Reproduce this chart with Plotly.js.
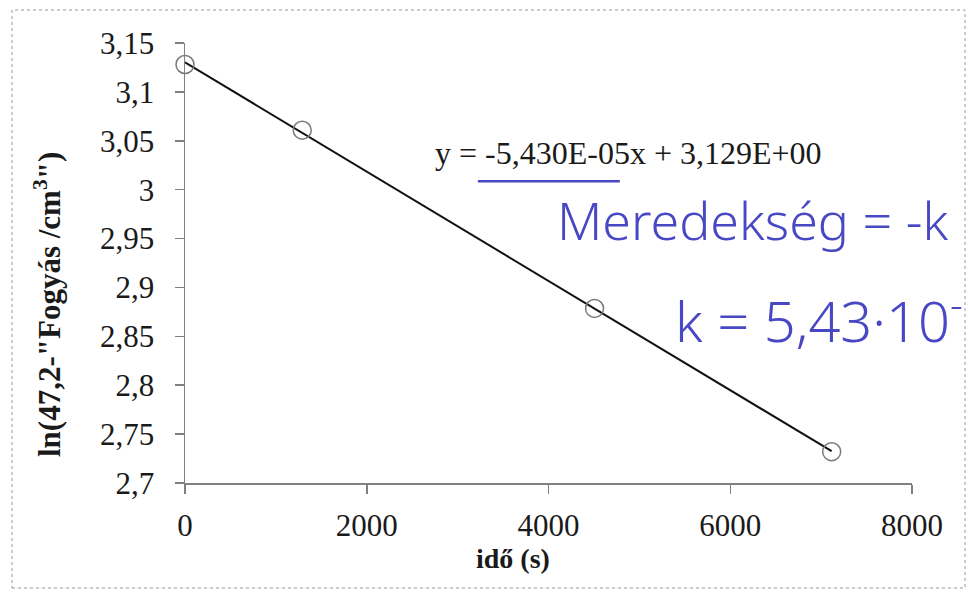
<!DOCTYPE html>
<html>
<head>
<meta charset="utf-8">
<script src="https://cdn.plot.ly/plotly-3.0.1.min.js"></script>
<style>
  html, body { margin: 0; padding: 0; background: #ffffff; }
  #chart { width: 968px; height: 592px; }
</style>
</head>
<body>
<div id="chart"></div>
<script>
// ---- data ----
const timeS = [0, 1290, 4507, 7116];
const lnValues = [3.128, 3.0608, 2.8785, 2.732];
const xTickVals = [0, 2000, 4000, 6000, 8000];
const yTickVals = [2.7, 2.75, 2.8, 2.85, 2.9, 2.95, 3, 3.05, 3.1, 3.15];
const equationText = 'y = -5,430E-05x + 3,129E+00';
const noteSlope = 'Meredekség = -k';
const noteK = 'k = 5,43·10<sup>-</sup>';
const xTitle = 'idő (s)';
const yTitle = 'ln(47,2-"Fogyás /cm<sup>3</sup>")';

// least-squares trend line through the data
const n = timeS.length;
const mx = timeS.reduce((a, b) => a + b, 0) / n;
const my = lnValues.reduce((a, b) => a + b, 0) / n;
let sxy = 0, sxx = 0;
for (let i = 0; i < n; i++) {
  sxy += (timeS[i] - mx) * (lnValues[i] - my);
  sxx += (timeS[i] - mx) * (timeS[i] - mx);
}
const slope = sxy / sxx;
const intercept = my - slope * mx;
const xMin = Math.min(...timeS), xMax = Math.max(...timeS);
const trendX = [xMin, xMax];
const trendY = trendX.map(x => intercept + slope * x);

const serif = 'Liberation Serif, serif';
const hand = 'Noto Sans';
const blue = 'rgb(72,72,196)';
const axisGray = '#808080';

// plot area in pixels: left 185, right 912, top 43, bottom 483
const PW = 727, PH = 440, PL = 185, PB = 483;
const px = v => (v - PL) / PW;
const py = v => (PB - v) / PH;

const traces = [
  {
    x: trendX, y: trendY, mode: 'lines', type: 'scatter',
    line: { color: '#111111', width: 2 }, hoverinfo: 'skip', showlegend: false
  },
  {
    x: timeS, y: lnValues, mode: 'markers', type: 'scatter',
    marker: { symbol: 'circle-open', size: 18, color: '#7a7a7a', line: { color: '#7a7a7a', width: 1.5 } },
    showlegend: false, cliponaxis: false
  }
];

const layout = {
  width: 968, height: 592,
  margin: { l: 185, r: 56, t: 43, b: 109 },
  paper_bgcolor: '#ffffff', plot_bgcolor: '#ffffff',
  separators: ', ',
  font: { family: serif, color: '#1a1a1a' },
  showlegend: false,
  xaxis: {
    range: [0, 8000], tickvals: xTickVals, showgrid: false, zeroline: false,
    showline: true, linecolor: axisGray, linewidth: 1.5,
    ticks: 'outside', ticklen: 9, tickcolor: axisGray, tickwidth: 1.5,
    tickfont: { family: serif, size: 31, color: '#1a1a1a' },
    ticklabelstandoff: 5
  },
  yaxis: {
    range: [2.7, 3.15], tickvals: yTickVals, showgrid: false, zeroline: false,
    showline: true, linecolor: axisGray, linewidth: 1.5,
    ticks: 'outside', ticklen: 9, tickcolor: axisGray, tickwidth: 1.5,
    tickfont: { family: serif, size: 31, color: '#1a1a1a' },
    ticklabelstandoff: 14
  },
  annotations: [
    { x: px(513), y: py(558), xref: 'paper', yref: 'paper', text: xTitle, showarrow: false,
      xanchor: 'center', yanchor: 'middle', font: { family: serif, size: 28, weight: 'bold', color: '#1a1a1a' } },
    { x: px(47), y: py(305), xref: 'paper', yref: 'paper', text: yTitle, showarrow: false, textangle: -90,
      xanchor: 'center', yanchor: 'middle', font: { family: serif, size: 31, weight: 'bold', color: '#1a1a1a' } },
    { x: 2728, y: 3.0373, xref: 'x', yref: 'y', text: equationText, showarrow: false,
      xanchor: 'left', yanchor: 'middle', font: { family: serif, size: 32, color: '#1a1a1a' } },
    { x: 4070, y: 2.9700, xref: 'x', yref: 'y', text: noteSlope, showarrow: false,
      xanchor: 'left', yanchor: 'middle', font: { family: hand, size: 52, weight: 300, color: blue } },
    { x: 5368, y: 2.8700, xref: 'x', yref: 'y', text: noteK, showarrow: false,
      xanchor: 'left', yanchor: 'middle', font: { family: hand, size: 56, weight: 300, color: blue } }
  ],
  shapes: [
    { type: 'line', xref: 'x', yref: 'y', x0: 3223, x1: 4785, y0: 3.0087, y1: 3.0087,
      line: { color: blue, width: 2.5 } },
    { type: 'rect', xref: 'paper', yref: 'paper',
      x0: px(12), x1: px(965), y0: py(588), y1: py(10),
      line: { color: '#9a9a9a', width: 1, dash: 'dot' }, fillcolor: 'rgba(0,0,0,0)' }
  ]
};

Plotly.newPlot('chart', traces, layout, { staticPlot: true, displayModeBar: false });
</script>
</body>
</html>
